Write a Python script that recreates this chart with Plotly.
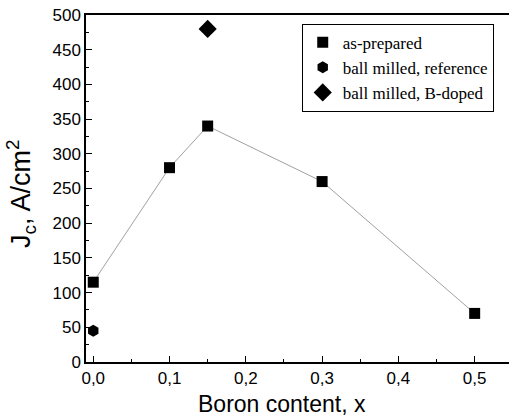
import plotly.graph_objects as go

x_prep = [0.0, 0.1, 0.15, 0.3, 0.5]
jc_prep = [115, 280, 340, 260, 70]
x_ref = [0.0]
jc_ref = [45]
x_bdoped = [0.15]
jc_bdoped = [480]

fig = go.Figure()
fig.add_trace(go.Scatter(x=x_prep, y=jc_prep, mode="lines", line=dict(color="#a0a0a0", width=1),
                         showlegend=False, hoverinfo="skip", cliponaxis=False))
fig.add_trace(go.Scatter(x=x_prep, y=jc_prep, mode="markers", name="as-prepared",
                         marker=dict(symbol="square", size=11, color="black"), cliponaxis=False))
fig.add_trace(go.Scatter(x=x_ref, y=jc_ref, mode="markers", name="ball milled, reference",
                         marker=dict(symbol="hexagon", size=12, color="black"), cliponaxis=False))
fig.add_trace(go.Scatter(x=x_bdoped, y=jc_bdoped, mode="markers", name="ball milled, B-doped",
                         marker=dict(symbol="diamond", size=14, color="black"), cliponaxis=False))

fig.add_annotation(text="Boron content, x", xref="paper", yref="paper", x=0.463, y=0,
                   xanchor="center", yanchor="middle", yshift=-42, showarrow=False,
                   font=dict(size=23, family="Liberation Sans", color="black"))
fig.add_annotation(text="J<sub>c</sub>, A/cm<sup>2</sup>", xref="paper", yref="paper", x=0, y=0.484,
                   xanchor="center", yanchor="middle", xshift=-65, textangle=-90, showarrow=False,
                   font=dict(size=27, family="Liberation Sans", color="black"))

fig.update_layout(
    width=509, height=420,
    margin=dict(l=86, r=0, t=15, b=58),
    plot_bgcolor="white", paper_bgcolor="white",
    separators=", ",
    font=dict(family="Liberation Sans", color="black"),
    legend=dict(x=0.51, y=0.975, xanchor="left", yanchor="top",
                bordercolor="black", borderwidth=1, bgcolor="white",
                font=dict(family="Times New Roman", size=17),
                itemwidth=30, tracegroupgap=0),
    xaxis=dict(range=[-0.0095, 0.545], tickvals=[0, 0.1, 0.2, 0.3, 0.4, 0.5], tickformat=".1f",
               ticks="inside", ticklen=6, tickcolor="black", tickwidth=1,
               minor=dict(tickvals=[0.05, 0.15, 0.25, 0.35, 0.45], ticks="inside", ticklen=3, tickcolor="black"),
               showline=True, linecolor="black", linewidth=1.5, mirror=True, showgrid=False, zeroline=False,
               tickfont=dict(size=17)),
    yaxis=dict(range=[0, 500], dtick=50, ticks="inside", ticklen=6, tickcolor="black", tickwidth=1,
               minor=dict(dtick=25, ticks="inside", ticklen=3, tickcolor="black"),
               showline=True, linecolor="black", linewidth=1.5, showgrid=False, zeroline=False,
               tickfont=dict(size=17)),
)

fig.write_html("out.html")
